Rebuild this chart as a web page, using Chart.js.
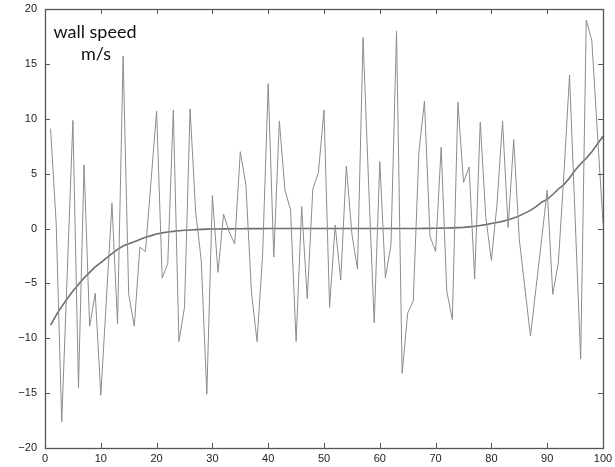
<!DOCTYPE html>
<html lang="en">
<head>
  <meta charset="UTF-8">
  <title>Wall speed</title>
  <script src="https://cdn.jsdelivr.net/npm/chart.js"></script>
  <style>
    html, body { margin: 0; padding: 0; background: #fff; }
    #chart { display: block; }
  </style>
</head>
<body>
  <canvas id="chart" width="615" height="467"></canvas>

  <script>
    // sample index
    const samples = [1,2,3,4,5,6,7,8,9,10,11,12,13,14,15,16,17,18,19,20,
      21,22,23,24,25,26,27,28,29,30,31,32,33,34,35,36,37,38,39,40,
      41,42,43,44,45,46,47,48,49,50,51,52,53,54,55,56,57,58,59,60,
      61,62,63,64,65,66,67,68,69,70,71,72,73,74,75,76,77,78,79,80,
      81,82,83,84,85,86,87,88,89,90,91,92,93,94,95,96,97,98,99,100];

    // measured wall speed (noisy)
    const wallSpeed = [9.1,0.5,-17.6,-3.9,9.85,-14.5,5.8,-8.9,-5.9,-15.2,
      -6.5,2.3,-8.7,15.7,-6.0,-8.9,-1.7,-2.1,4.3,10.7,
      -4.5,-3.2,10.8,-10.3,-7.2,10.9,1.5,-2.9,-15.1,3.0,
      -4.0,1.3,-0.3,-1.4,7.0,4.0,-5.8,-10.3,-2.4,13.2,
      -2.6,9.8,3.5,1.7,-10.3,2.0,-6.4,3.6,5.1,10.8,
      -7.2,0.3,-4.7,5.7,-0.5,-3.7,17.4,4.0,-8.6,6.1,
      -4.5,-1.5,18.0,-13.2,-7.7,-6.6,6.9,11.6,-0.7,-2.1,
      7.4,-5.7,-8.3,11.5,4.2,5.6,-4.6,9.7,1.0,-2.9,
      2.2,9.8,0.1,8.1,-1.0,-5.4,-9.8,-5.4,-1.0,3.5,
      -6.0,-3.1,5.0,14.0,1.0,-11.9,19.0,17.1,8.7,0.5];

    // smoothed profile
    const smoothSpeed = [-8.8,-7.9,-7.1,-6.4,-5.7,-5.1,-4.5,-4.0,-3.5,-3.1,
      -2.7,-2.3,-1.9,-1.6,-1.4,-1.2,-1.0,-0.8,-0.65,-0.5,
      -0.4,-0.32,-0.26,-0.2,-0.16,-0.13,-0.1,-0.08,-0.06,-0.05,
      -0.04,-0.03,-0.03,-0.02,-0.02,-0.01,-0.01,-0.01,-0.01,0,
      0,0,0,0,0,0,0,0,0,0,
      0,0,0,0,0,0,0,0,0,0,
      0,0,0,0,0,0,0,0.01,0.01,0.02,
      0.03,0.04,0.06,0.08,0.1,0.15,0.2,0.28,0.35,0.45,
      0.55,0.65,0.8,0.95,1.15,1.4,1.65,2.0,2.4,2.65,
      3.1,3.6,4.0,4.6,5.3,5.9,6.4,7.0,7.7,8.4];

    const xTicks = [0,10,20,30,40,50,60,70,80,90,100];
    const yTicks = [-20,-15,-10,-5,0,5,10,15,20];
    const labelLines = ['wall speed', 'm/s'];

    const tickFont = { family: 'Liberation Sans, Arial, sans-serif', size: 11 };

    // box, inward ticks on all four sides, and the in-plot label
    const frame = {
      id: 'frame',
      afterDraw(chart) {
        const ctx = chart.ctx;
        const a = chart.chartArea;
        const xs = chart.scales.x, ys = chart.scales.y;
        ctx.save();
        ctx.strokeStyle = '#555';
        ctx.lineWidth = 1;
        ctx.beginPath();
        xTicks.forEach(v => {
          const px = Math.round(xs.getPixelForValue(v)) + 0.5;
          ctx.moveTo(px, a.bottom); ctx.lineTo(px, a.bottom - 5);
          ctx.moveTo(px, a.top); ctx.lineTo(px, a.top + 5);
        });
        yTicks.forEach(v => {
          const py = Math.round(ys.getPixelForValue(v)) + 0.5;
          ctx.moveTo(a.left, py); ctx.lineTo(a.left + 5, py);
          ctx.moveTo(a.right, py); ctx.lineTo(a.right - 5, py);
        });
        ctx.stroke();
        ctx.lineWidth = 1.3;
        ctx.strokeRect(Math.round(a.left) + 0.5, Math.round(a.top) + 0.5,
          Math.round(a.right - a.left), Math.round(a.bottom - a.top));

        ctx.fillStyle = '#111';
        ctx.font = '18px Lato, "Open Sans", sans-serif';
        ctx.textAlign = 'center';
        ctx.textBaseline = 'alphabetic';
        ctx.fillText(labelLines[0], 95, 38);
        ctx.fillText(labelLines[1], 96, 60);
        ctx.restore();
      }
    };

    new Chart(document.getElementById('chart'), {
      type: 'line',
      data: {
        datasets: [{
          label: 'wall speed',
          data: samples.map((x, i) => ({ x: x, y: wallSpeed[i] })),
          borderColor: '#8c8c8c',
          borderWidth: 1,
          pointRadius: 0,
          tension: 0,
          fill: false
        }, {
          label: 'smoothed',
          data: samples.map((x, i) => ({ x: x, y: smoothSpeed[i] })),
          borderColor: '#6e6e6e',
          borderWidth: 1.6,
          pointRadius: 0,
          tension: 0,
          fill: false
        }]
      },
      options: {
        responsive: false,
        animation: false,
        layout: { padding: { top: 9, right: 12, left: 0, bottom: 0 } },
        plugins: { legend: { display: false }, tooltip: { enabled: false } },
        scales: {
          x: {
            type: 'linear',
            min: 0, max: 100,
            afterBuildTicks: s => { s.ticks = xTicks.map(v => ({ value: v })); },
            afterFit: s => { s.height = 19; s.paddingLeft = 0; s.paddingRight = 0; },
            grid: { display: false, drawTicks: false },
            border: { display: false },
            ticks: { font: tickFont, color: '#222', padding: 4, maxRotation: 0 }
          },
          y: {
            min: -20, max: 20,
            afterBuildTicks: s => { s.ticks = yTicks.map(v => ({ value: v })); },
            afterFit: s => { s.width = 45; s.paddingTop = 0; s.paddingBottom = 0; },
            grid: { display: false, drawTicks: false },
            border: { display: false },
            ticks: {
              font: tickFont, color: '#222', padding: 8,
              callback: v => String(v).replace('-', '\u2212')
            }
          }
        }
      },
      plugins: [frame]
    });
  </script>
</body>
</html>
